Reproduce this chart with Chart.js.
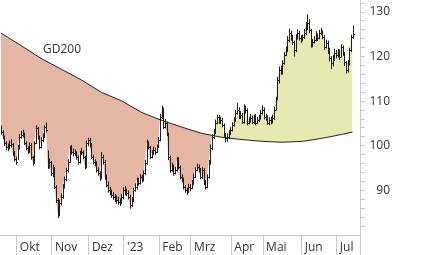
<!DOCTYPE html>
<html>
<head>
<meta charset="utf-8">
<script src="https://cdn.jsdelivr.net/npm/chart.js@4/dist/chart.umd.min.js"></script>
<style>
  html, body { margin: 0; padding: 0; background: #fff; }
  #wrap { width: 426px; height: 255px; }
</style>
</head>
<body>
<div id="wrap"><canvas id="chart"></canvas></div>
<script>
// Kurs (Tageswerte, Handelstage ab Mitte Sept. 2022)
const closes = [
  103.2, 102.0, 100.7, 99.8, 99.5, 100.2, 100.5, 98.4, 97.0, 96.4,
  99.5, 102.0, 102.5, 102.9, 100.7, 99.5, 98.7, 100.2, 97.5, 96.2,
  100.7, 104.0, 102.0, 99.8, 101.3, 102.0, 104.3, 103.5, 95.3, 96.4,
  93.9, 95.0, 90.8, 87.9, 84.5, 87.2, 88.6, 90.8, 92.5, 94.5,
  96.4, 99.5, 98.7, 98.4, 98.4, 97.5, 96.4, 98.4, 98.7, 97.5,
  95.3, 100.7, 101.3, 100.2, 97.5, 96.4, 96.2, 94.6, 93.9, 92.8,
  97.5, 96.4, 93.0, 91.3, 90.1, 89.5, 89.0, 88.6, 88.2, 87.9,
  87.5, 87.2, 88.5, 90.1, 89.5, 89.5, 88.6, 86.8, 87.9, 90.1,
  90.8, 92.4, 91.7, 93.0, 92.4, 93.9, 96.2, 100.7, 99.8, 97.5,
  98.4, 99.1, 98.7, 99.8, 101.3, 106.5, 108.5, 104.3, 105.2, 102.9,
  97.5, 94.6, 95.3, 93.9, 94.6, 96.9, 95.3, 93.0, 92.4, 90.8,
  90.1, 89.7, 90.8, 90.6, 91.7, 93.0, 94.6, 95.3, 94.6, 93.0,
  94.6, 91.7, 90.8, 93.0, 96.2, 99.5, 102.0, 103.1, 105.2, 106.5,
  105.4, 105.8, 104.7, 102.5, 101.8, 102.0, 102.9, 103.6, 104.7, 105.8,
  107.4, 108.1, 106.5, 107.0, 105.4, 108.7, 108.1, 105.2, 105.8, 106.3,
  105.4, 106.5, 105.2, 105.8, 106.3, 107.4, 108.1, 106.5, 106.3, 105.2,
  105.8, 105.4, 106.3, 108.1, 110.5, 114.8, 117.0, 116.6, 118.6, 120.4,
  121.5, 123.8, 125.3, 124.4, 123.3, 121.5, 124.4, 125.3, 124.2, 123.8,
  124.4, 125.3, 127.0, 127.5, 126.0, 122.6, 123.3, 123.8, 124.9, 124.2,
  125.3, 125.6, 124.4, 122.2, 123.1, 121.5, 119.7, 118.6, 119.3, 120.9,
  120.4, 120.9, 120.0, 122.2, 120.9, 118.8, 117.0, 118.6, 121.5, 124.4,
  125.0
];
const highs = [
  104.5, 103.5, 102.3, 101.0, 100.5, 101.2, 101.5, 100.6, 98.8, 97.6,
  100.2, 102.6, 103.4, 103.6, 103.0, 101.0, 99.9, 100.8, 100.6, 97.8,
  101.0, 104.6, 104.2, 102.3, 101.9, 102.8, 104.6, 105.2, 99.0, 97.2,
  96.6, 95.8, 95.2, 91.2, 88.3, 87.9, 89.4, 91.4, 93.1, 95.1,
  97.0, 100.0, 100.2, 99.4, 99.2, 98.8, 97.9, 98.9, 99.5, 99.0,
  97.8, 101.2, 101.8, 101.8, 100.6, 98.0, 97.0, 96.5, 95.2, 94.3,
  98.6, 98.0, 96.8, 93.6, 92.0, 90.8, 90.2, 89.6, 89.2, 88.9,
  88.6, 88.2, 89.2, 90.7, 91.0, 90.4, 90.0, 89.0, 88.6, 90.6,
  91.6, 92.9, 92.8, 93.6, 93.5, 94.5, 96.8, 101.4, 101.0, 100.0,
  99.0, 99.8, 99.6, 100.3, 102.0, 107.2, 109.0, 108.6, 106.0, 105.4,
  103.0, 97.8, 96.2, 95.8, 95.3, 97.5, 97.4, 95.6, 93.6, 92.9,
  91.2, 90.6, 91.5, 91.4, 92.3, 93.8, 95.2, 96.0, 95.8, 95.0,
  95.2, 95.0, 92.3, 93.6, 96.8, 100.3, 102.6, 103.8, 105.9, 107.0,
  106.9, 106.5, 106.3, 105.0, 102.9, 102.8, 103.5, 104.2, 105.3, 106.4,
  108.0, 109.6, 108.6, 107.8, 107.4, 109.3, 109.0, 108.4, 106.4, 107.1,
  106.8, 107.0, 107.1, 106.5, 107.0, 108.0, 109.1, 108.6, 107.2, 106.8,
  106.4, 106.5, 107.0, 108.8, 111.0, 115.5, 117.8, 118.0, 119.2, 121.0,
  122.3, 124.6, 126.3, 125.8, 124.9, 123.6, 125.0, 126.1, 125.8, 124.8,
  125.0, 126.2, 127.8, 129.5, 128.4, 126.2, 124.0, 124.6, 125.7, 125.2,
  126.0, 126.4, 125.9, 124.8, 123.8, 123.6, 122.0, 120.1, 120.4, 121.8,
  121.5, 121.7, 121.6, 122.8, 122.5, 121.0, 119.0, 119.2, 122.0, 124.9,
  127.0
];
const lows = [
  102.5, 101.5, 100.0, 99.0, 98.8, 99.2, 99.6, 97.8, 96.5, 95.8,
  96.8, 99.2, 101.6, 101.9, 100.2, 99.0, 98.2, 98.5, 96.9, 95.6,
  96.0, 100.4, 101.4, 99.2, 99.4, 100.8, 101.8, 103.0, 94.8, 94.9,
  93.2, 93.0, 90.3, 87.2, 83.8, 84.2, 86.6, 88.1, 90.4, 92.0,
  94.0, 96.2, 98.0, 97.6, 97.7, 96.9, 95.8, 96.0, 97.9, 97.0,
  94.8, 95.0, 99.9, 99.6, 97.0, 95.8, 95.4, 94.0, 93.3, 92.1,
  92.5, 95.8, 92.4, 90.7, 89.5, 88.9, 88.3, 87.9, 87.4, 87.0,
  86.8, 86.5, 86.9, 88.0, 88.9, 88.7, 88.0, 85.9, 86.3, 87.4,
  89.7, 90.2, 91.1, 91.3, 91.8, 92.0, 93.4, 95.8, 99.2, 97.0,
  97.2, 98.0, 98.0, 98.4, 99.5, 101.0, 106.0, 103.8, 103.9, 102.2,
  96.8, 94.0, 94.2, 93.3, 93.6, 94.2, 94.7, 92.5, 91.8, 90.2,
  89.5, 89.0, 89.4, 89.8, 90.3, 91.2, 92.8, 94.3, 94.0, 92.5,
  92.6, 91.2, 90.2, 90.5, 92.6, 95.8, 99.0, 101.5, 102.6, 104.8,
  104.9, 104.9, 104.1, 102.0, 100.8, 100.9, 101.6, 102.4, 103.2, 104.3,
  105.4, 107.0, 106.0, 106.0, 104.9, 105.0, 107.2, 104.6, 104.8, 105.2,
  104.9, 104.9, 104.6, 104.8, 105.3, 105.9, 107.0, 105.9, 105.6, 104.7,
  104.6, 104.8, 105.0, 105.8, 107.9, 110.2, 114.0, 115.9, 116.0, 118.2,
  120.1, 121.0, 123.2, 123.6, 122.6, 120.0, 121.0, 123.8, 123.6, 123.1,
  123.4, 124.0, 124.8, 126.0, 125.2, 122.0, 122.1, 122.9, 123.4, 123.5,
  123.9, 124.8, 123.9, 121.5, 121.8, 120.6, 118.9, 117.2, 117.8, 119.0,
  119.6, 119.8, 119.3, 119.8, 120.2, 117.9, 116.2, 116.4, 118.0, 121.0,
  124.0
];

const gdDays   = [0, 12, 24, 36, 48, 60, 72, 84, 96, 108, 120, 132, 144, 156, 168, 180, 192, 204, 210];
const gdValues = [125.3, 122.5, 119.6, 117.2, 114.8, 112.0, 110.1, 107.5, 105.7, 104.2, 102.8, 101.9, 101.4, 101.0, 100.8, 101.0, 101.7, 102.6, 103.1];

// Monatsanfänge (Index des ersten Handelstages)
const monthLabels = ['Okt', 'Nov', 'Dez', "'23", 'Feb', 'Mrz', 'Apr', 'Mai', 'Jun', 'Jul'];
const monthStart  = [10, 31, 53, 74, 95, 114, 138, 157, 180, 201];

const yTicks = [90, 100, 110, 120, 130];

const FONT = "'Open Sans', 'DejaVu Sans', sans-serif";
const AXIS_GREY = '#c8c8c8';
const FILL_BELOW = '#e5b6a3';
const FILL_ABOVE = '#e6eab2';

const X_MIN = -0.5, X_MAX = 214.4;

// OHLC-Striche (Hoch/Tief + Schluss) über die Skalen zeichnen
const ohlcPlugin = {
  id: 'ohlc',
  afterDatasetsDraw(chart) {
    const { ctx, scales: { x, y } } = chart;
    ctx.save();
    ctx.strokeStyle = '#1e1e1e';
    ctx.lineWidth = 1;
    ctx.beginPath();
    for (let i = 0; i < closes.length; i++) {
      const px = Math.round(x.getPixelForValue(i)) + 0.5;
      ctx.moveTo(px, y.getPixelForValue(highs[i]));
      ctx.lineTo(px, y.getPixelForValue(lows[i]));
      const cy = Math.round(y.getPixelForValue(closes[i])) + 0.5;
      ctx.moveTo(px, cy);
      ctx.lineTo(px + 1.5, cy);
    }
    ctx.stroke();
    ctx.restore();
  }
};

// Beschriftung der GD200-Linie
const gdLabelPlugin = {
  id: 'gdLabel',
  afterDraw(chart) {
    const { ctx, scales: { x, y } } = chart;
    ctx.save();
    ctx.font = '12px ' + FONT;
    ctx.fillStyle = '#333';
    ctx.textAlign = 'left';
    ctx.textBaseline = 'middle';
    ctx.fillText('GD200', x.getPixelForValue(25.2), y.getPixelForValue(121.6));
    ctx.restore();
  }
};

new Chart(document.getElementById('chart'), {
  type: 'line',
  data: {
    datasets: [
      {
        label: 'GD200',
        data: gdDays.map((d, i) => ({ x: d, y: gdValues[i] })),
        borderColor: '#222',
        borderWidth: 1,
        pointRadius: 0,
        fill: false
      },
      {
        label: 'Kurs',
        data: closes.map((c, i) => ({ x: i, y: c })),
        borderWidth: 0,
        borderColor: 'rgba(0,0,0,0)',
        pointRadius: 0,
        fill: { target: 0, above: FILL_ABOVE, below: FILL_BELOW }
      }
    ]
  },
  options: {
    responsive: true,
    maintainAspectRatio: false,
    animation: false,
    layout: { padding: { left: 0, top: 0, bottom: 0, right: 36 } },
    plugins: {
      legend: { display: false },
      tooltip: { enabled: false }
    },
    scales: {
      x: {
        type: 'linear',
        min: X_MIN,
        max: X_MAX,
        position: 'bottom',
        grid: { drawOnChartArea: false, drawTicks: true, tickLength: 20, color: AXIS_GREY },
        border: { color: AXIS_GREY },
        afterBuildTicks: (axis) => {
          axis.ticks = monthStart.map(v => ({ value: v - 0.5 })).concat([{ value: X_MAX }]);
        },
        ticks: {
          autoSkip: false,
          maxRotation: 0,
          align: 'start',
          padding: -15,
          color: '#333',
          font: { family: FONT, size: 12 },
          callback: (value) => {
            const k = monthStart.indexOf(value + 0.5);
            return k >= 0 ? ' ' + monthLabels[k] : '';
          }
        },
        afterFit: (axis) => {
          axis.height = 20;
          axis.paddingLeft = 0;
          axis.paddingRight = 0;
        }
      },
      y: {
        position: 'right',
        min: 80,
        max: 132.7,
        grid: { drawOnChartArea: false, drawTicks: true, tickLength: 5, color: AXIS_GREY },
        border: { color: AXIS_GREY },
        afterBuildTicks: (axis) => {
          const t = [];
          for (let v = 82; v <= 132; v += 2) t.push({ value: v });
          axis.ticks = t;
        },
        ticks: {
          autoSkip: false,
          padding: 3,
          crossAlign: 'far',
          color: '#333',
          font: { family: FONT, size: 12 },
          callback: (value) => yTicks.includes(value) ? String(value) : ''
        },
        afterFit: (axis) => {
          axis.width = 30;
          axis.paddingTop = 0;
          axis.paddingBottom = 0;
        }
      }
    }
  },
  plugins: [ohlcPlugin, gdLabelPlugin]
});
</script>
</body>
</html>
